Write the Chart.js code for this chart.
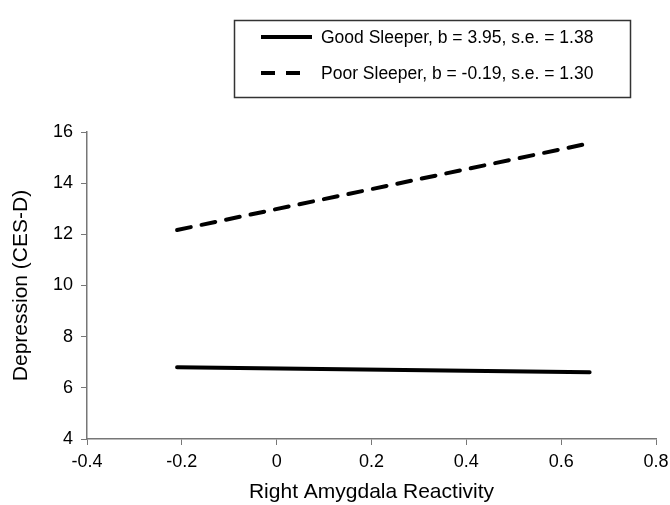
<!DOCTYPE html>
<html>
<head>
<meta charset="utf-8">
<script src="https://cdn.jsdelivr.net/npm/chart.js@4"></script>
<style>
  body { margin: 0; background: #fff; }
  #wrap { width: 670px; height: 505px; }
</style>
</head>
<body>
<div id="wrap"><canvas id="chart" width="670" height="505"></canvas></div>
<script>
// data
var reactivity = [-0.21, 0.66];
var goodSleeper = [6.80, 6.61];
var poorSleeper = [12.17, 15.56];
var seriesNames = ["Good Sleeper, b = 3.95, s.e. = 1.38", "Poor Sleeper, b = -0.19, s.e. = 1.30"];
var xTicks = [-0.4, -0.2, 0, 0.2, 0.4, 0.6, 0.8];
var yTicks = [4, 6, 8, 10, 12, 14, 16];

function pts(ys) {
    return reactivity.map(function (x, i) { return { x: x, y: ys[i] }; });
}

var FONT = "'Liberation Sans', Arial, sans-serif";

// legend drawn as a boxed panel above the plot
var boxLegend = {
    id: 'boxLegend',
    afterDraw: function (chart) {
        var ctx = chart.ctx;
        ctx.save();
        ctx.strokeStyle = '#333';
        ctx.lineWidth = 1.5;
        ctx.strokeRect(234.5, 20.5, 396, 77);
        var rows = [37, 73];
        chart.data.datasets.forEach(function (ds, i) {
            var y = rows[i];
            ctx.beginPath();
            ctx.strokeStyle = '#000';
            ctx.lineWidth = 4;
            ctx.lineCap = 'butt';
            ctx.setLineDash(ds.borderDash || []);
            ctx.moveTo(261, y);
            ctx.lineTo(i === 0 ? 312 : 300, y);
            ctx.stroke();
            ctx.setLineDash([]);
            ctx.fillStyle = '#000';
            ctx.font = '17.5px ' + FONT;
            ctx.textBaseline = 'middle';
            ctx.fillText(ds.label, 321, y + 1);
        });
        ctx.restore();
    }
};

var canvas = document.getElementById('chart').getContext('2d');
window.line = new Chart(canvas, {
    type: 'line',
    data: {
        datasets: [{
                label: seriesNames[0],
                data: pts(goodSleeper),
                borderColor: '#000',
                borderWidth: 4,
                pointRadius: 0,
                borderCapStyle: 'round'
            },
            {
                label: seriesNames[1],
                data: pts(poorSleeper),
                borderColor: '#000',
                borderWidth: 4,
                borderDash: [14, 11],
                pointRadius: 0,
                borderCapStyle: 'round'
            }
        ]
    },
    options: {
        responsive: false,
        animation: false,
        layout: { padding: { top: 132, right: 14, left: 9, bottom: 0 } },
        plugins: {
            legend: { display: false },
            tooltip: { enabled: false }
        },
        scales: {
            x: {
                type: 'linear',
                min: xTicks[0],
                max: xTicks[xTicks.length - 1],
                afterBuildTicks: function (s) {
                    s.ticks = xTicks.map(function (v) { return { value: v }; });
                },
                afterFit: function (s) { s.height = 66; s.paddingRight = 0; },
                grid: { drawOnChartArea: false, drawTicks: true, tickLength: 6, color: '#777' },
                border: { color: '#777', width: 1.5 },
                ticks: {
                    color: '#000',
                    padding: 6,
                    maxRotation: 0,
                    font: { family: FONT, size: 18 },
                    callback: function (v) { return String(Number(v.toFixed(1))); }
                },
                title: {
                    display: true,
                    text: 'Right Amygdala Reactivity',
                    color: '#000',
                    font: { family: FONT, size: 21 },
                    padding: { top: 0, bottom: 0 }
                }
            },
            y: {
                min: yTicks[0],
                max: yTicks[yTicks.length - 1],
                afterBuildTicks: function (s) {
                    s.ticks = yTicks.map(function (v) { return { value: v }; });
                },
                afterFit: function (s) { s.width = 78; },
                grid: { drawOnChartArea: false, drawTicks: true, tickLength: 6, color: '#777' },
                border: { color: '#777', width: 1.5 },
                ticks: {
                    color: '#000',
                    padding: 8,
                    font: { family: FONT, size: 18 }
                },
                title: {
                    display: true,
                    text: 'Depression (CES-D)',
                    color: '#000',
                    font: { family: FONT, size: 21 },
                    padding: { top: 0, bottom: 0 }
                }
            }
        }
    },
    plugins: [boxLegend]
});
</script>
</body>
</html>
